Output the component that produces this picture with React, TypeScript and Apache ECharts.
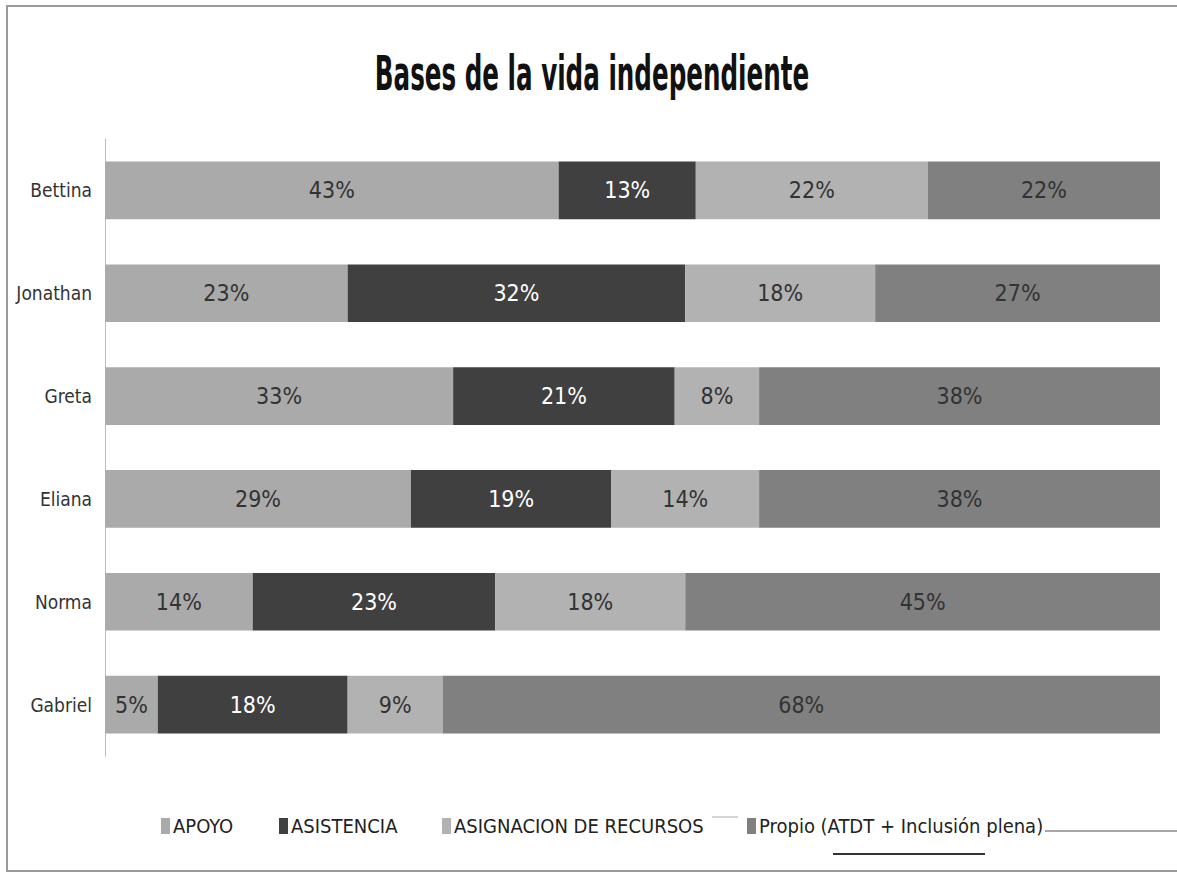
import React, { useEffect, useRef } from "react";
import * as echarts from "echarts";

const titleText = "Bases de la vida independiente";
const categories = ["Bettina", "Jonathan", "Greta", "Eliana", "Norma", "Gabriel"];
const seriesNames = ["APOYO", "ASISTENCIA", "ASIGNACION DE RECURSOS", "Propio (ATDT + Inclusión plena)"];
const apoyo = [43, 23, 33, 29, 14, 5];
const asistencia = [13, 32, 21, 19, 23, 18];
const asignacion = [22, 18, 8, 14, 18, 9];
const propio = [22, 27, 38, 38, 45, 68];

const colors = ["#aaaaaa", "#404040", "#b2b2b2", "#808080"];
const labelColors = ["#333333", "#ffffff", "#333333", "#333333"];
const legendLefts = [156, 274, 437, 742];

const FONT = '"DejaVu Sans Condensed", "Liberation Sans Narrow", "Open Sans", sans-serif';

export default function App() {
  const ref = useRef<HTMLDivElement>(null);
  useEffect(() => {
    if (!ref.current) return;
    const chart = echarts.init(ref.current, null, { renderer: "svg" });
    const values = [apoyo, asistencia, asignacion, propio];
    chart.setOption({
      animation: false,
      backgroundColor: "#ffffff",
      textStyle: { fontFamily: FONT },
      legend: seriesNames.map((n, i) => ({
        data: [n],
        left: legendLefts[i],
        top: 811,
        icon: "rect",
        itemWidth: 9,
        itemHeight: 16,
        itemGap: 4,
        textStyle: { fontFamily: FONT, fontSize: 20, color: "#222222", padding: [0, 0, 0, -2] },
      })),
      grid: { left: 105, right: 17, top: 139, bottom: 117 },
      xAxis: {
        type: "value",
        min: 0,
        max: 100,
        show: false,
      },
      yAxis: {
        type: "category",
        data: categories,
        inverse: true,
        axisLine: { show: true, lineStyle: { color: "#bbbbbb", width: 1 } },
        axisTick: { show: false },
        axisLabel: { fontFamily: FONT, fontSize: 19, color: "#333333", margin: 13 },
      },
      series: seriesNames.map((n, i) => ({
        name: n,
        type: "bar",
        stack: "total",
        data: values[i],
        barWidth: "56%",
        itemStyle: { color: colors[i] },
        label: {
          show: true,
          position: "inside",
          formatter: "{c}%",
          fontFamily: FONT,
          fontSize: 23,
          color: labelColors[i],
        },
      })),
      graphic: [
        {
          type: "rect",
          shape: { x: 7, y: 6, width: 1200, height: 865 },
          style: { fill: "none", stroke: "#999999", lineWidth: 2 },
          silent: true,
        },
        {
          type: "text",
          x: 592,
          y: 73,
          scaleX: 0.57,
          style: {
            text: titleText,
            font: 'bold 48px "DejaVu Sans Condensed", "DejaVu Sans", sans-serif',
            fill: "#111111",
            textAlign: "center",
            textVerticalAlign: "middle",
          },
        },
        {
          type: "line",
          shape: { x1: 712, y1: 817, x2: 738, y2: 817 },
          style: { stroke: "#aaaaaa", lineWidth: 1 },
        },
        {
          type: "line",
          shape: { x1: 1045, y1: 831, x2: 1177, y2: 831 },
          style: { stroke: "#888888", lineWidth: 1.5 },
        },
        {
          type: "line",
          shape: { x1: 833, y1: 854, x2: 985, y2: 854 },
          style: { stroke: "#333333", lineWidth: 2 },
        },
      ],
    });
    return () => chart.dispose();
  }, []);
  return (
    <div
      ref={ref}
      style={{ position: "fixed", left: 0, top: 0, width: 1177, height: 873 }}
    />
  );
}
